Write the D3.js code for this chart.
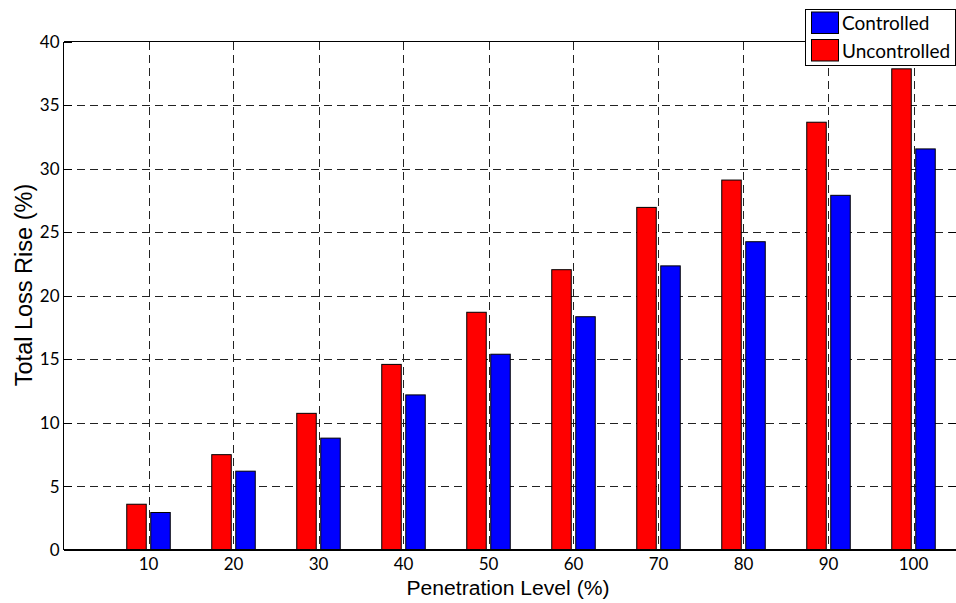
<!DOCTYPE html>
<html>
<head>
<meta charset="utf-8">
<script src="https://cdn.jsdelivr.net/npm/d3@7"></script>
<style>
  html, body { margin: 0; padding: 0; background: #fff; }
  svg { display: block; }
</style>
</head>
<body>
<svg id="chart" width="956" height="603"></svg>
<script>
// Penetration levels (%) and total loss rise (%) for each control mode
const levels = [10, 20, 30, 40, 50, 60, 70, 80, 90, 100];
const uncontrolled = [3.6, 7.5, 10.75, 14.6, 18.7, 22.05, 26.95, 29.1, 33.65, 37.85];
const controlled = [2.95, 6.2, 8.8, 12.2, 15.4, 18.35, 22.35, 24.25, 27.9, 31.55];
const yTicks = [0, 5, 10, 15, 20, 25, 30, 35, 40];
const seriesNames = ["Controlled", "Uncontrolled"];
const seriesColors = {Controlled: "#0000ff", Uncontrolled: "#ff0000"};

const svg = d3.select("#chart");
const plotL = 63.5, plotR = 957, plotT = 41.5, plotB = 550;

const x = d3.scaleLinear().domain([0, 105]).range([plotL, plotL + 105 * 8.5]);
const y = d3.scaleLinear().domain([0, 40]).range([plotB, plotT]);

const tickFont = "Lato, 'Open Sans', sans-serif";
const labelFont = "'Liberation Sans', Arial, sans-serif";

// grid lines
const grid = svg.append("g").attr("stroke", "#222").attr("stroke-width", 1)
  .attr("stroke-dasharray", "8,5").attr("shape-rendering", "crispEdges");
grid.selectAll("line.v").data(levels).join("line")
  .attr("x1", d => Math.round(x(d)) + 0.5).attr("x2", d => Math.round(x(d)) + 0.5)
  .attr("y1", plotT).attr("y2", plotB);
grid.selectAll("line.h").data(yTicks.filter(d => d > 0 && d < 40)).join("line")
  .attr("y1", d => Math.round(y(d)) + 0.5).attr("y2", d => Math.round(y(d)) + 0.5)
  .attr("x1", plotL).attr("x2", plotR);

// bars
const offset = 12, barW = 19.5;
const bars = svg.append("g").attr("stroke", "#000").attr("stroke-width", 1);
bars.selectAll("rect.u").data(levels).join("rect")
  .attr("x", (d, i) => x(d) - offset - barW / 2)
  .attr("y", (d, i) => y(uncontrolled[i]))
  .attr("width", barW)
  .attr("height", (d, i) => y(0) - y(uncontrolled[i]))
  .attr("fill", seriesColors.Uncontrolled);
bars.selectAll("rect.c").data(levels).join("rect")
  .attr("x", (d, i) => x(d) + offset - barW / 2)
  .attr("y", (d, i) => y(controlled[i]))
  .attr("width", barW)
  .attr("height", (d, i) => y(0) - y(controlled[i]))
  .attr("fill", seriesColors.Controlled);

// axes box
const box = svg.append("g").attr("stroke", "#000").attr("fill", "none").attr("shape-rendering", "crispEdges");
box.append("line").attr("x1", plotL).attr("x2", plotL).attr("y1", plotT).attr("y2", plotB);
box.append("line").attr("x1", plotL).attr("x2", plotR).attr("y1", plotT).attr("y2", plotT);
box.append("line").attr("x1", plotL).attr("x2", plotR).attr("y1", plotB).attr("y2", plotB).attr("stroke-width", 2);

// inward ticks on left and right
yTicks.forEach(t => {
  const yy = Math.round(y(t)) + 0.5;
  box.append("line").attr("x1", plotL).attr("x2", plotL + 8).attr("y1", yy).attr("y2", yy);
  box.append("line").attr("x1", plotR - 8).attr("x2", plotR).attr("y1", yy).attr("y2", yy);
});

// y tick labels
svg.append("g").selectAll("text").data(yTicks).join("text")
  .attr("x", plotL - 4).attr("y", d => y(d)).attr("dy", "0.36em")
  .attr("text-anchor", "end")
  .attr("font-family", tickFont).attr("font-size", 17).attr("fill", "#000")
  .text(d => d);

// x tick labels
svg.append("g").selectAll("text").data(levels).join("text")
  .attr("x", d => x(d)).attr("y", 570)
  .attr("text-anchor", "middle")
  .attr("font-family", tickFont).attr("font-size", 17).attr("fill", "#000")
  .text(d => d);

// axis titles
svg.append("text").attr("x", 508).attr("y", 595).attr("text-anchor", "middle")
  .attr("font-family", labelFont).attr("font-size", 20).attr("fill", "#000")
  .attr("textLength", 203).attr("lengthAdjust", "spacingAndGlyphs")
  .text("Penetration Level (%)");
svg.append("text").attr("transform", "translate(32,285) rotate(-90)").attr("text-anchor", "middle")
  .attr("font-family", labelFont).attr("font-size", 23.5).attr("fill", "#000")
  .text("Total Loss Rise (%)");

// legend
const lg = svg.append("g");
lg.append("rect").attr("x", 805.5).attr("y", 9.5).attr("width", 150).attr("height", 56)
  .attr("fill", "#fff").attr("stroke", "#000");
seriesNames.forEach((name, i) => {
  lg.append("rect").attr("x", 811.5).attr("y", 12 + i * 27.5).attr("width", 27).attr("height", 21.5)
    .attr("fill", seriesColors[name]).attr("stroke", "#000");
  lg.append("text").attr("x", 842).attr("y", 30 + i * 28)
    .attr("font-family", tickFont).attr("font-size", 19).attr("fill", "#000")
    .text(name);
});
</script>
</body>
</html>
